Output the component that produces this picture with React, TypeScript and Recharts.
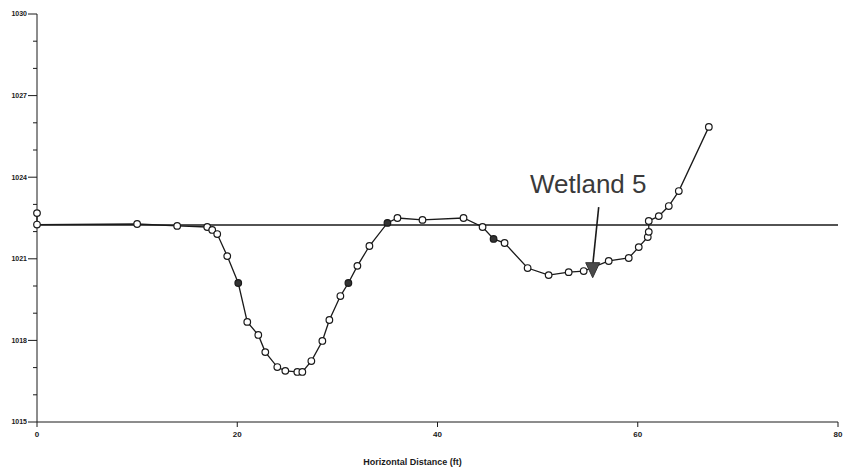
import { LineChart, Line, XAxis, YAxis, ReferenceLine, ReferenceDot } from 'recharts';

// ─── Data ─────────────────────────────────────────────────────────────────────
const distance = [
  0, 0, 10, 14, 17, 17.5, 18, 19, 20.1, 21, 22.1, 22.8, 24, 24.8, 26, 26.5,
  27.4, 28.5, 29.2, 30.3, 31.1, 32, 33.2, 35, 36, 38.5, 42.6, 44.5, 45.6, 46.7,
  49, 51.1, 53.1, 54.6, 57.1, 59.1, 60.1, 61, 61.1, 61.1, 62.1, 63.1, 64.1, 67.1,
];
const elevation = [
  1022.68, 1022.26, 1022.28, 1022.21, 1022.17, 1022.06, 1021.91, 1021.1, 1020.11,
  1018.68, 1018.2, 1017.57, 1017.02, 1016.88, 1016.84, 1016.84, 1017.24, 1017.98,
  1018.75, 1019.63, 1020.11, 1020.74, 1021.47, 1022.32, 1022.5, 1022.43, 1022.5,
  1022.17, 1021.73, 1021.58, 1020.66, 1020.4, 1020.51, 1020.55, 1020.92, 1021.03,
  1021.43, 1021.8, 1021.99, 1022.39, 1022.57, 1022.94, 1023.49, 1025.85,
];
// points drawn as solid markers on the scan
const solidAt = [20.1, 31.1, 35, 45.6];

const waterLevel = 1022.24;
const xTicks = [0, 20, 40, 60, 80];
const yTicks = [
  1015, 1016, 1017, 1018, 1019, 1020, 1021, 1022, 1023, 1024, 1025, 1026, 1027,
  1028, 1029, 1030,
];
const yMajorStep = 3;

const wetlandLabel = { text: 'Wetland 5', x: 55.05, y: 1023.42 };
const arrowFrom = { x: 56.1, y: 1022.9 };
const arrowTo = { x: 55.5, y: 1020.75 };
const arrowHead = { x: 55.5, y: 1020.6 };

const data = distance.map((d, i) => ({ dist: d, elev: elevation[i] }));

const FONT = '"Liberation Sans", Arial, sans-serif';
const INK = '#1a1a1a';

function YTick({ x, y, payload }: any) {
  const v = payload.value as number;
  const major = (v - yTicks[0]) % yMajorStep === 0;
  return (
    <g>
      <line x1={x - (major ? 9 : 4)} x2={x} y1={y} y2={y} stroke={INK} strokeWidth={1} />
      {major && (
        <text x={x - 10} y={y} dy="0.35em" textAnchor="end" fontSize={7} fontWeight="bold" fill={INK} fontFamily={FONT}>
          {v}
        </text>
      )}
    </g>
  );
}

function Marker({ cx, cy, payload }: any) {
  if (cx == null || cy == null) return null;
  const solid = solidAt.includes(payload.dist);
  return (
    <circle cx={cx} cy={cy} r={3.3} stroke={INK} strokeWidth={1.2} fill={solid ? '#333' : '#fff'} />
  );
}

function Triangle({ cx, cy }: any) {
  return (
    <path d={`M${cx - 7},${cy - 7} L${cx + 7},${cy - 7} L${cx},${cy + 8} Z`} fill="#4a4a4a" stroke="#333" strokeWidth={1} />
  );
}

function WetlandText({ cx, cy }: any) {
  return (
    <text x={cx} y={cy} textAnchor="middle" fontSize={26} fill="#3a3a3a" fontFamily={FONT}>
      {wetlandLabel.text}
    </text>
  );
}

export default function App() {
  return (
    <div style={{ position: 'absolute', left: 0, top: 0, background: '#fff' }}>
      <LineChart width={856} height={468} data={data} margin={{ top: 14, right: 18, left: 0, bottom: 0 }}>
        <XAxis
          dataKey="dist"
          type="number"
          domain={[0, 80]}
          ticks={xTicks}
          height={46}
          tickSize={5}
          tickMargin={4}
          stroke={INK}
          tick={{ fontSize: 8, fill: INK, fontFamily: FONT, fontWeight: 'bold' }}
          label={{
            value: 'Horizontal Distance (ft)',
            position: 'insideBottom',
            offset: 3,
            dx: -25,
            fontSize: 9,
            fill: INK,
            fontFamily: FONT,
            fontWeight: 'bold',
          }}
        />
        <YAxis
          type="number"
          domain={[1015, 1030]}
          ticks={yTicks}
          width={37}
          tickSize={0}
          tickMargin={0}
          stroke={INK}
          tick={<YTick />}
          interval={0}
        />
        <ReferenceLine y={waterLevel} stroke={INK} strokeWidth={1.6} />
        <Line
          dataKey="elev"
          stroke={INK}
          strokeWidth={1.3}
          dot={<Marker />}
          activeDot={false}
          isAnimationActive={false}
        />
        <ReferenceLine segment={[arrowFrom, arrowTo]} stroke={INK} strokeWidth={1.6} />
        <ReferenceDot x={arrowHead.x} y={arrowHead.y} r={0} shape={<Triangle />} />
        <ReferenceDot x={wetlandLabel.x} y={wetlandLabel.y} r={0} shape={<WetlandText />} />
      </LineChart>
    </div>
  );
}
